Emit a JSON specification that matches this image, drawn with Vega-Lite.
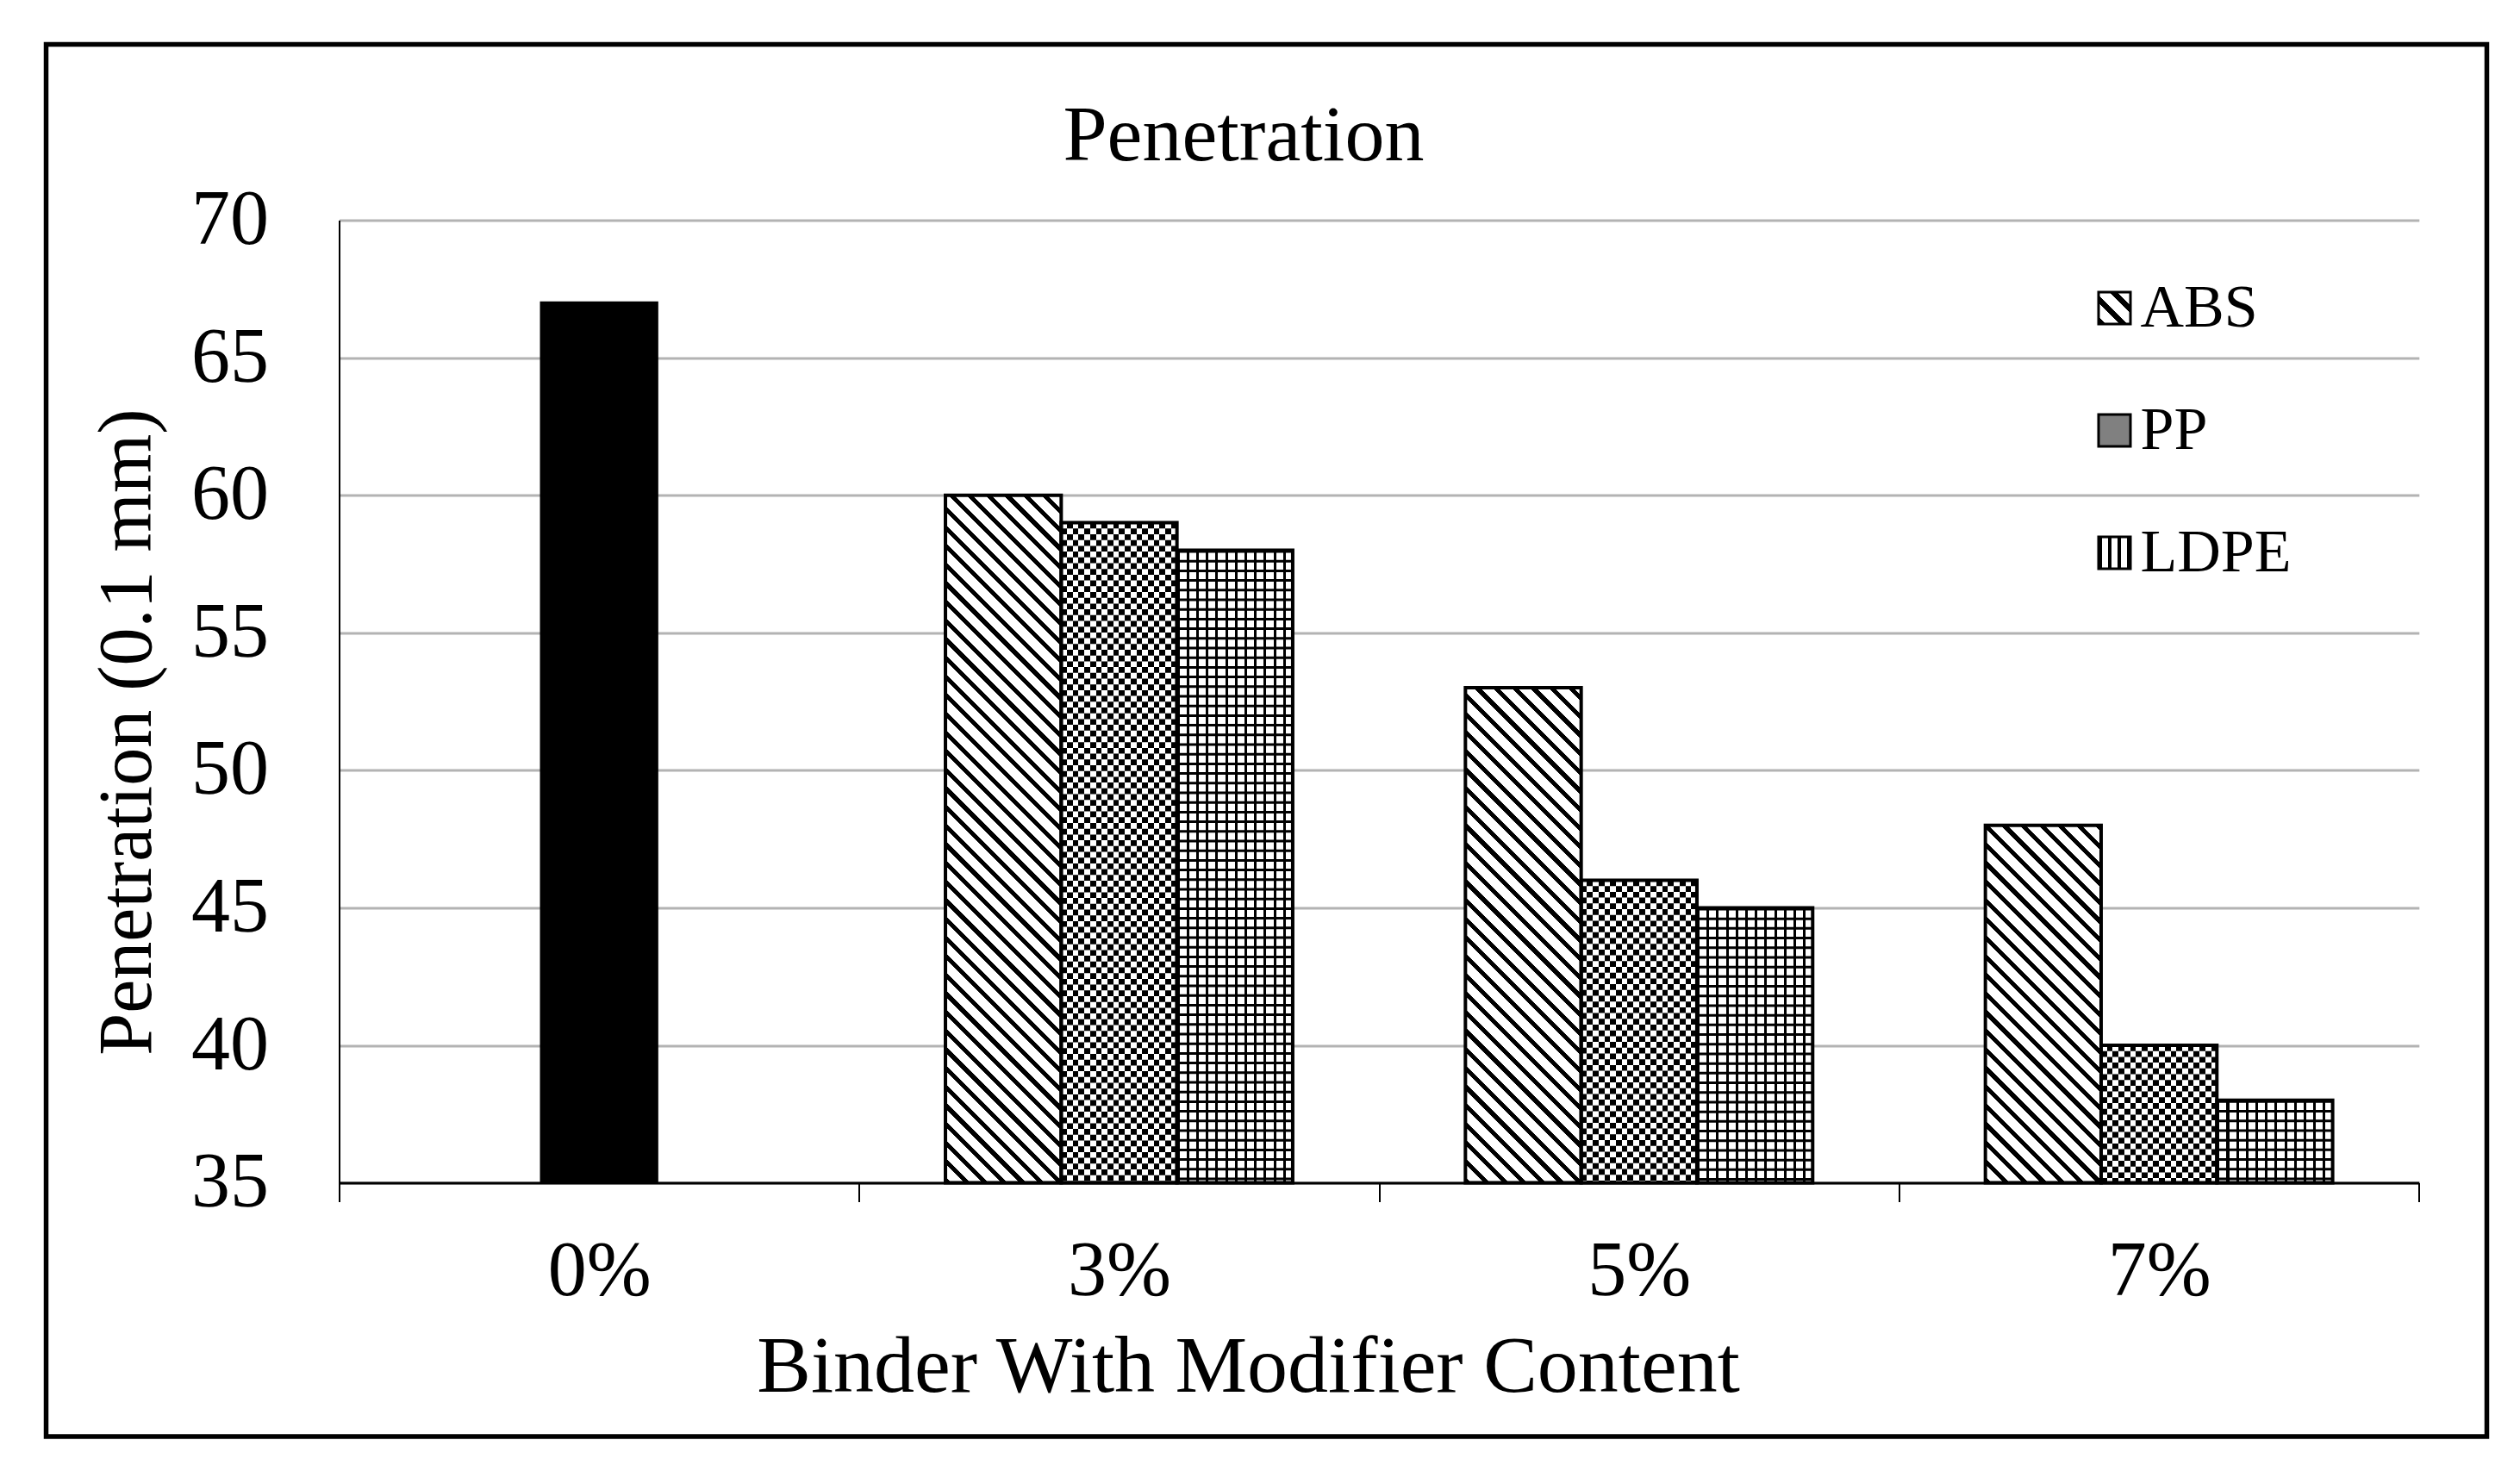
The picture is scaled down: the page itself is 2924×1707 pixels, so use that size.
{
  "$schema": "https://vega.github.io/schema/vega-lite/v6.json",
  "width": 2832,
  "height": 1615.5,
  "autosize": {"type": "none"},
  "padding": {"left": 53.5, "top": 51.5, "right": 38.5, "bottom": 40},
  "background": "white",
  "config": {"font": "Liberation Serif", "view": {"stroke": "black", "strokeWidth": 5.5}},
  "params": [
    {"name": "absStops", "value": [
      {"offset":0,"color":"#000"},{"offset":0.0075,"color":"#000"},{"offset":0.0075,"color":"#fff"},{"offset":0.0225,"color":"#fff"},
      {"offset":0.0225,"color":"#000"},{"offset":0.03,"color":"#000"},{"offset":0.03,"color":"#fff"},{"offset":0.045,"color":"#fff"},
      {"offset":0.045,"color":"#000"},{"offset":0.0525,"color":"#000"},{"offset":0.0525,"color":"#fff"},{"offset":0.0675,"color":"#fff"},
      {"offset":0.0675,"color":"#000"},{"offset":0.075,"color":"#000"},{"offset":0.075,"color":"#fff"},{"offset":0.09,"color":"#fff"},
      {"offset":0.09,"color":"#000"},{"offset":0.0975,"color":"#000"},{"offset":0.0975,"color":"#fff"},{"offset":0.1125,"color":"#fff"},
      {"offset":0.1125,"color":"#000"},{"offset":0.12,"color":"#000"},{"offset":0.12,"color":"#fff"},{"offset":0.135,"color":"#fff"},
      {"offset":0.135,"color":"#000"},{"offset":0.1425,"color":"#000"},{"offset":0.1425,"color":"#fff"},{"offset":0.1575,"color":"#fff"},
      {"offset":0.1575,"color":"#000"},{"offset":0.165,"color":"#000"},{"offset":0.165,"color":"#fff"},{"offset":0.18,"color":"#fff"},
      {"offset":0.18,"color":"#000"},{"offset":0.1875,"color":"#000"},{"offset":0.1875,"color":"#fff"},{"offset":0.2025,"color":"#fff"},
      {"offset":0.2025,"color":"#000"},{"offset":0.21,"color":"#000"},{"offset":0.21,"color":"#fff"},{"offset":0.225,"color":"#fff"},
      {"offset":0.225,"color":"#000"},{"offset":0.2325,"color":"#000"},{"offset":0.2325,"color":"#fff"},{"offset":0.2475,"color":"#fff"},
      {"offset":0.2475,"color":"#000"},{"offset":0.255,"color":"#000"},{"offset":0.255,"color":"#fff"},{"offset":0.27,"color":"#fff"},
      {"offset":0.27,"color":"#000"},{"offset":0.2775,"color":"#000"},{"offset":0.2775,"color":"#fff"},{"offset":0.2925,"color":"#fff"},
      {"offset":0.2925,"color":"#000"},{"offset":0.3,"color":"#000"},{"offset":0.3,"color":"#fff"},{"offset":0.315,"color":"#fff"},
      {"offset":0.315,"color":"#000"},{"offset":0.3225,"color":"#000"},{"offset":0.3225,"color":"#fff"},{"offset":0.3375,"color":"#fff"},
      {"offset":0.3375,"color":"#000"},{"offset":0.345,"color":"#000"},{"offset":0.345,"color":"#fff"},{"offset":0.36,"color":"#fff"},
      {"offset":0.36,"color":"#000"},{"offset":0.3675,"color":"#000"},{"offset":0.3675,"color":"#fff"},{"offset":0.3825,"color":"#fff"},
      {"offset":0.3825,"color":"#000"},{"offset":0.39,"color":"#000"},{"offset":0.39,"color":"#fff"},{"offset":0.405,"color":"#fff"},
      {"offset":0.405,"color":"#000"},{"offset":0.4125,"color":"#000"},{"offset":0.4125,"color":"#fff"},{"offset":0.4275,"color":"#fff"},
      {"offset":0.4275,"color":"#000"},{"offset":0.435,"color":"#000"},{"offset":0.435,"color":"#fff"},{"offset":0.45,"color":"#fff"},
      {"offset":0.45,"color":"#000"},{"offset":0.4575,"color":"#000"},{"offset":0.4575,"color":"#fff"},{"offset":0.4725,"color":"#fff"},
      {"offset":0.4725,"color":"#000"},{"offset":0.48,"color":"#000"},{"offset":0.48,"color":"#fff"},{"offset":0.495,"color":"#fff"},
      {"offset":0.495,"color":"#000"},{"offset":0.5025,"color":"#000"},{"offset":0.5025,"color":"#fff"},{"offset":0.5175,"color":"#fff"},
      {"offset":0.5175,"color":"#000"},{"offset":0.525,"color":"#000"},{"offset":0.525,"color":"#fff"},{"offset":0.54,"color":"#fff"},
      {"offset":0.54,"color":"#000"},{"offset":0.5475,"color":"#000"},{"offset":0.5475,"color":"#fff"},{"offset":0.5625,"color":"#fff"},
      {"offset":0.5625,"color":"#000"},{"offset":0.57,"color":"#000"},{"offset":0.57,"color":"#fff"},{"offset":0.585,"color":"#fff"},
      {"offset":0.585,"color":"#000"},{"offset":0.5925,"color":"#000"},{"offset":0.5925,"color":"#fff"},{"offset":0.6075,"color":"#fff"},
      {"offset":0.6075,"color":"#000"},{"offset":0.615,"color":"#000"},{"offset":0.615,"color":"#fff"},{"offset":0.63,"color":"#fff"},
      {"offset":0.63,"color":"#000"},{"offset":0.6375,"color":"#000"},{"offset":0.6375,"color":"#fff"},{"offset":0.6525,"color":"#fff"},
      {"offset":0.6525,"color":"#000"},{"offset":0.66,"color":"#000"},{"offset":0.66,"color":"#fff"},{"offset":0.675,"color":"#fff"},
      {"offset":0.675,"color":"#000"},{"offset":0.6825,"color":"#000"},{"offset":0.6825,"color":"#fff"},{"offset":0.6975,"color":"#fff"},
      {"offset":0.6975,"color":"#000"},{"offset":0.705,"color":"#000"},{"offset":0.705,"color":"#fff"},{"offset":0.72,"color":"#fff"},
      {"offset":0.72,"color":"#000"},{"offset":0.7275,"color":"#000"},{"offset":0.7275,"color":"#fff"},{"offset":0.7425,"color":"#fff"},
      {"offset":0.7425,"color":"#000"},{"offset":0.75,"color":"#000"},{"offset":0.75,"color":"#fff"},{"offset":0.765,"color":"#fff"},
      {"offset":0.765,"color":"#000"},{"offset":0.7725,"color":"#000"},{"offset":0.7725,"color":"#fff"},{"offset":0.7875,"color":"#fff"},
      {"offset":0.7875,"color":"#000"},{"offset":0.795,"color":"#000"},{"offset":0.795,"color":"#fff"},{"offset":0.81,"color":"#fff"},
      {"offset":0.81,"color":"#000"},{"offset":0.8175,"color":"#000"},{"offset":0.8175,"color":"#fff"},{"offset":0.8325,"color":"#fff"},
      {"offset":0.8325,"color":"#000"},{"offset":0.84,"color":"#000"},{"offset":0.84,"color":"#fff"},{"offset":0.855,"color":"#fff"},
      {"offset":0.855,"color":"#000"},{"offset":0.8625,"color":"#000"},{"offset":0.8625,"color":"#fff"},{"offset":0.8775,"color":"#fff"},
      {"offset":0.8775,"color":"#000"},{"offset":0.885,"color":"#000"},{"offset":0.885,"color":"#fff"},{"offset":0.9,"color":"#fff"},
      {"offset":0.9,"color":"#000"},{"offset":0.9075,"color":"#000"},{"offset":0.9075,"color":"#fff"},{"offset":0.9225,"color":"#fff"},
      {"offset":0.9225,"color":"#000"},{"offset":0.93,"color":"#000"},{"offset":0.93,"color":"#fff"},{"offset":0.945,"color":"#fff"},
      {"offset":0.945,"color":"#000"},{"offset":0.9525,"color":"#000"},{"offset":0.9525,"color":"#fff"},{"offset":0.9675,"color":"#fff"},
      {"offset":0.9675,"color":"#000"},{"offset":0.975,"color":"#000"},{"offset":0.975,"color":"#fff"},{"offset":0.99,"color":"#fff"},
      {"offset":0.99,"color":"#000"},{"offset":0.9975,"color":"#000"},{"offset":0.9975,"color":"#fff"},{"offset":1,"color":"#fff"}
    ]},
    {"name": "absLegend", "value": {"gradient": "linear", "x1": 0, "y1": 1, "x2": 1, "y2": 0, "stops": [
      {"offset":0,"color":"#000"},{"offset":0.12,"color":"#000"},{"offset":0.12,"color":"#fff"},{"offset":0.3333,"color":"#fff"},
      {"offset":0.3333,"color":"#000"},{"offset":0.4533,"color":"#000"},{"offset":0.4533,"color":"#fff"},{"offset":0.6667,"color":"#fff"},
      {"offset":0.6667,"color":"#000"},{"offset":0.7867,"color":"#000"},{"offset":0.7867,"color":"#fff"},{"offset":1,"color":"#fff"}
    ]}},
    {"name": "ldpeLegend", "value": {"gradient": "linear", "x1": 0, "y1": 0, "x2": 1, "y2": 0, "stops": [
      {"offset":0,"color":"#000"},{"offset":0.1,"color":"#000"},{"offset":0.1,"color":"#fff"},{"offset":0.3,"color":"#fff"},
      {"offset":0.3,"color":"#000"},{"offset":0.4,"color":"#000"},{"offset":0.4,"color":"#fff"},{"offset":0.6,"color":"#fff"},
      {"offset":0.6,"color":"#000"},{"offset":0.7,"color":"#000"},{"offset":0.7,"color":"#fff"},{"offset":0.9,"color":"#fff"},
      {"offset":0.9,"color":"#000"},{"offset":1,"color":"#000"}
    ]}}
  ],
  "title": {"text": "Penetration", "fontSize": 92, "font": "Liberation Serif", "fontWeight": "normal", "color": "black", "anchor": "middle", "frame": "group", "dx": -26.6, "dy": 226, "baseline": "alphabetic", "offset": 0},
  "data": {"values": [
    {"content": "0%", "type": "Control", "value": 67},
    {"content": "3%", "type": "ABS", "value": 60},
    {"content": "3%", "type": "PP", "value": 59},
    {"content": "3%", "type": "LDPE", "value": 58},
    {"content": "5%", "type": "ABS", "value": 53},
    {"content": "5%", "type": "PP", "value": 46},
    {"content": "5%", "type": "LDPE", "value": 45},
    {"content": "7%", "type": "ABS", "value": 48},
    {"content": "7%", "type": "PP", "value": 40},
    {"content": "7%", "type": "LDPE", "value": 38}
  ]},
  "encoding": {
    "x": {"field": "content", "type": "nominal", "sort": ["0%", "3%", "5%", "7%"],
      "scale": {"domain": ["0%", "3%", "5%", "7%"], "range": [340, 2753.3], "paddingInner": 0, "paddingOuter": 0},
      "axis": {"offset": -294.4, "title": "Binder With Modifier Content", "titleFontSize": 94, "titleFont": "Liberation Serif", "titleFontWeight": "normal", "titleColor": "black", "titleX": 1394.5, "titleY": 242, "titleAlign": "center", "titleBaseline": "alphabetic",
        "labelFontSize": 90, "labelFont": "Liberation Serif", "labelColor": "black", "labelAngle": 0, "labelBaseline": "alphabetic", "labelPadding": 108,
        "tickBand": "extent", "tickSize": 22, "tickWidth": 2, "tickColor": "black", "domainColor": "black", "domainWidth": 3, "grid": false}},
    "y": {"field": "value", "type": "quantitative",
      "scale": {"domain": [35, 70], "range": [1321.1, 204], "nice": false, "zero": false},
      "axis": {"offset": -340, "values": [35, 40, 45, 50, 55, 60, 65, 70], "title": "Penetration (0.1 mm)", "titleFontSize": 88, "titleFont": "Liberation Serif", "titleFontWeight": "normal", "titleColor": "black", "titleX": -219, "titleY": 797.5, "titleAngle": 270, "titleAlign": "center", "titleBaseline": "alphabetic",
        "labelFontSize": 90, "labelFont": "Liberation Serif", "labelColor": "black", "labelPadding": 82, "ticks": false, "domainColor": "black", "domainWidth": 2, "gridColor": "#b3b3b3", "gridWidth": 3}},
    "y2": {"datum": 35}
  },
  "layer": [
    {
      "transform": [{"filter": "datum.type === 'Control'"}],
      "mark": {"type": "bar", "width": {"band": 0.2226}, "fill": "black", "stroke": "black", "strokeWidth": 3},
      "encoding": {}
    },
    {
      "transform": [{"filter": "datum.type !== 'Control'"}],
      "mark": {"type": "bar"},
      "encoding": {
        "xOffset": {"field": "type", "type": "nominal", "scale": {"domain": ["ABS", "PP", "LDPE"], "paddingInner": 0, "paddingOuter": 0.746}},
        "fill": {"field": "type", "type": "nominal",
          "scale": {"domain": ["ABS", "PP", "LDPE"], "range": [{"expr": "absLegend"}, "#808080", {"expr": "ldpeLegend"}]},
          "legend": {"title": null, "orient": "none", "legendX": 2365, "legendY": 271, "labelFontSize": 70, "labelFont": "Liberation Serif", "labelColor": "black", "labelLimit": 400, "symbolType": "square", "symbolSize": 1369, "symbolStrokeColor": "black", "symbolStrokeWidth": 3, "symbolOpacity": 1, "rowPadding": 72, "labelOffset": -5}}
      }
    },
    {
      "transform": [{"filter": "datum.type === 'ABS'"}],
      "mark": {"type": "bar", "fill": {"expr": "{gradient: 'linear', x1: 0, y1: 1, x2: 961.7*134.31/(18039.2+pow((datum.value-35)*31.917,2)), y2: 1-961.7*(datum.value-35)*31.917/(18039.2+pow((datum.value-35)*31.917,2)), stops: absStops}"}},
      "encoding": {
        "xOffset": {"field": "type", "type": "nominal", "scale": {"domain": ["ABS", "PP", "LDPE"], "paddingInner": 0, "paddingOuter": 0.746}}
      }
    },
    {
      "transform": [{"filter": "datum.type === 'PP'"}],
      "mark": {"type": "bar", "fill": {"gradient": "linear", "x1": 0, "y1": 0, "x2": 1, "y2": 0, "stops": [
        {"offset":0,"color":"#000"},{"offset":0.05,"color":"#000"},{"offset":0.05,"color":"#fff"},{"offset":0.1,"color":"#fff"},
        {"offset":0.1,"color":"#000"},{"offset":0.15,"color":"#000"},{"offset":0.15,"color":"#fff"},{"offset":0.2,"color":"#fff"},
        {"offset":0.2,"color":"#000"},{"offset":0.25,"color":"#000"},{"offset":0.25,"color":"#fff"},{"offset":0.3,"color":"#fff"},
        {"offset":0.3,"color":"#000"},{"offset":0.35,"color":"#000"},{"offset":0.35,"color":"#fff"},{"offset":0.4,"color":"#fff"},
        {"offset":0.4,"color":"#000"},{"offset":0.45,"color":"#000"},{"offset":0.45,"color":"#fff"},{"offset":0.5,"color":"#fff"},
        {"offset":0.5,"color":"#000"},{"offset":0.55,"color":"#000"},{"offset":0.55,"color":"#fff"},{"offset":0.6,"color":"#fff"},
        {"offset":0.6,"color":"#000"},{"offset":0.65,"color":"#000"},{"offset":0.65,"color":"#fff"},{"offset":0.7,"color":"#fff"},
        {"offset":0.7,"color":"#000"},{"offset":0.75,"color":"#000"},{"offset":0.75,"color":"#fff"},{"offset":0.8,"color":"#fff"},
        {"offset":0.8,"color":"#000"},{"offset":0.85,"color":"#000"},{"offset":0.85,"color":"#fff"},{"offset":0.9,"color":"#fff"},
        {"offset":0.9,"color":"#000"},{"offset":0.95,"color":"#000"},{"offset":0.95,"color":"#fff"},{"offset":1,"color":"#fff"}
      ]}},
      "encoding": {
        "xOffset": {"field": "type", "type": "nominal", "scale": {"domain": ["ABS", "PP", "LDPE"], "paddingInner": 0, "paddingOuter": 0.746}}
      }
    },
    {
      "transform": [{"filter": "datum.type === 'PP'"}],
      "mark": {"type": "rule", "stroke": "white", "strokeWidth": 134.31, "strokeDash": [6.7, 6.7], "strokeCap": "butt", "blend": "difference"},
      "encoding": {
        "xOffset": {"field": "type", "type": "nominal", "scale": {"domain": ["ABS", "PP", "LDPE"], "paddingInner": 0, "paddingOuter": 0.746}}
      }
    },
    {
      "transform": [{"filter": "datum.type === 'LDPE'"}],
      "mark": {"type": "bar", "fill": {"gradient": "linear", "x1": 0, "y1": 0, "x2": 1, "y2": 0, "stops": [
        {"offset":0,"color":"#000"},{"offset":0.0225,"color":"#000"},{"offset":0.0225,"color":"#fff"},{"offset":0.0833,"color":"#fff"},
        {"offset":0.0833,"color":"#000"},{"offset":0.1058,"color":"#000"},{"offset":0.1058,"color":"#fff"},{"offset":0.1667,"color":"#fff"},
        {"offset":0.1667,"color":"#000"},{"offset":0.1892,"color":"#000"},{"offset":0.1892,"color":"#fff"},{"offset":0.25,"color":"#fff"},
        {"offset":0.25,"color":"#000"},{"offset":0.2725,"color":"#000"},{"offset":0.2725,"color":"#fff"},{"offset":0.3333,"color":"#fff"},
        {"offset":0.3333,"color":"#000"},{"offset":0.3558,"color":"#000"},{"offset":0.3558,"color":"#fff"},{"offset":0.4167,"color":"#fff"},
        {"offset":0.4167,"color":"#000"},{"offset":0.4392,"color":"#000"},{"offset":0.4392,"color":"#fff"},{"offset":0.5,"color":"#fff"},
        {"offset":0.5,"color":"#000"},{"offset":0.5225,"color":"#000"},{"offset":0.5225,"color":"#fff"},{"offset":0.5833,"color":"#fff"},
        {"offset":0.5833,"color":"#000"},{"offset":0.6058,"color":"#000"},{"offset":0.6058,"color":"#fff"},{"offset":0.6667,"color":"#fff"},
        {"offset":0.6667,"color":"#000"},{"offset":0.6892,"color":"#000"},{"offset":0.6892,"color":"#fff"},{"offset":0.75,"color":"#fff"},
        {"offset":0.75,"color":"#000"},{"offset":0.7725,"color":"#000"},{"offset":0.7725,"color":"#fff"},{"offset":0.8333,"color":"#fff"},
        {"offset":0.8333,"color":"#000"},{"offset":0.8558,"color":"#000"},{"offset":0.8558,"color":"#fff"},{"offset":0.9167,"color":"#fff"},
        {"offset":0.9167,"color":"#000"},{"offset":0.9392,"color":"#000"},{"offset":0.9392,"color":"#fff"},{"offset":1,"color":"#fff"}
      ]}},
      "encoding": {
        "xOffset": {"field": "type", "type": "nominal", "scale": {"domain": ["ABS", "PP", "LDPE"], "paddingInner": 0, "paddingOuter": 0.746}}
      }
    },
    {
      "transform": [{"filter": "datum.type === 'LDPE'"}],
      "mark": {"type": "rule", "stroke": "black", "strokeWidth": 134.31, "strokeDash": [3, 8.2], "strokeCap": "butt"},
      "encoding": {
        "xOffset": {"field": "type", "type": "nominal", "scale": {"domain": ["ABS", "PP", "LDPE"], "paddingInner": 0, "paddingOuter": 0.746}}
      }
    },
    {
      "transform": [{"filter": "datum.type !== 'Control'"}],
      "mark": {"type": "bar", "fill": "transparent", "stroke": "black", "strokeWidth": 4},
      "encoding": {
        "xOffset": {"field": "type", "type": "nominal", "scale": {"domain": ["ABS", "PP", "LDPE"], "paddingInner": 0, "paddingOuter": 0.746}}
      }
    }
  ]
}
